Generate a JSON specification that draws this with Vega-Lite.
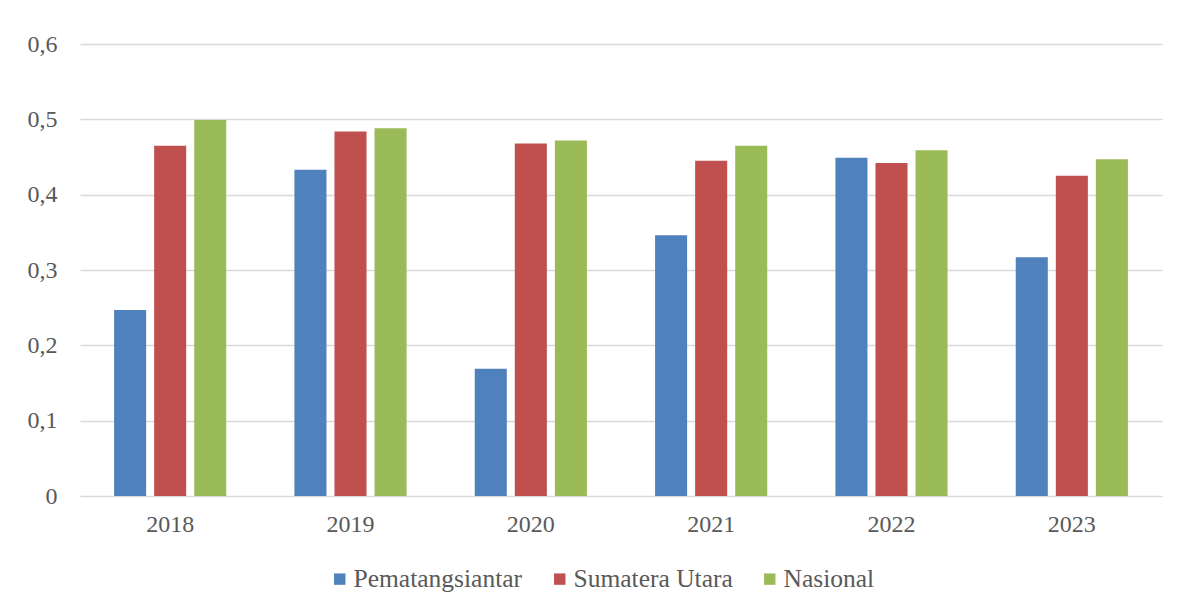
{
  "$schema": "https://vega.github.io/schema/vega-lite/v6.json",
  "width": 1082,
  "height": 452,
  "autosize": {"type": "none"},
  "padding": {"left": 80, "top": 44, "right": 23, "bottom": 111},
  "background": "white",
  "data": {
    "values": [
      {"year": "2018", "series": "Pematangsiantar", "value": 0.247},
      {"year": "2018", "series": "Sumatera Utara", "value": 0.465},
      {"year": "2018", "series": "Nasional", "value": 0.499},
      {"year": "2019", "series": "Pematangsiantar", "value": 0.433},
      {"year": "2019", "series": "Sumatera Utara", "value": 0.484},
      {"year": "2019", "series": "Nasional", "value": 0.488},
      {"year": "2020", "series": "Pematangsiantar", "value": 0.169},
      {"year": "2020", "series": "Sumatera Utara", "value": 0.468},
      {"year": "2020", "series": "Nasional", "value": 0.472},
      {"year": "2021", "series": "Pematangsiantar", "value": 0.346},
      {"year": "2021", "series": "Sumatera Utara", "value": 0.445},
      {"year": "2021", "series": "Nasional", "value": 0.465},
      {"year": "2022", "series": "Pematangsiantar", "value": 0.449},
      {"year": "2022", "series": "Sumatera Utara", "value": 0.442},
      {"year": "2022", "series": "Nasional", "value": 0.459},
      {"year": "2023", "series": "Pematangsiantar", "value": 0.317},
      {"year": "2023", "series": "Sumatera Utara", "value": 0.425},
      {"year": "2023", "series": "Nasional", "value": 0.447}
    ]
  },
  "mark": {"type": "bar"},
  "encoding": {
    "x": {
      "field": "year", "type": "nominal", "title": null,
      "scale": {"paddingInner": 0.378, "paddingOuter": 0.189},
      "axis": {"labelAngle": 0, "domain": false, "ticks": false, "labelPadding": 16, "labelFontSize": 24, "labelFont": "Liberation Serif", "labelColor": "#595959"}
    },
    "xOffset": {
      "field": "series", "type": "nominal",
      "sort": ["Pematangsiantar", "Sumatera Utara", "Nasional"],
      "scale": {"paddingInner": 0.2, "paddingOuter": 0}
    },
    "y": {
      "field": "value", "type": "quantitative", "title": null,
      "scale": {"domain": [0, 0.6], "nice": false},
      "axis": {
        "values": [0, 0.1, 0.2, 0.3, 0.4, 0.5, 0.6],
        "labelExpr": "datum.value == 0 ? '0' : replace(format(datum.value, '.1f'), '.', ',')",
        "domain": false, "ticks": false, "labelPadding": 23,
        "labelFontSize": 24, "labelFont": "Liberation Serif", "labelColor": "#595959",
        "gridColor": "#d9d9d9", "gridWidth": 1.5
      }
    },
    "color": {
      "field": "series", "type": "nominal",
      "sort": ["Pematangsiantar", "Sumatera Utara", "Nasional"],
      "scale": {"domain": ["Pematangsiantar", "Sumatera Utara", "Nasional"], "range": ["#4F81BD", "#C0504D", "#9BBB59"]},
      "legend": {
        "title": null, "orient": "none", "direction": "horizontal",
        "legendX": 247, "legendY": 522,
        "symbolType": "square", "symbolSize": 130, "symbolStrokeWidth": 0,
        "labelFont": "Liberation Serif", "labelFontSize": 25.5, "labelColor": "#595959",
        "labelLimit": 0, "labelOffset": 1, "columnPadding": 24
      }
    }
  },
  "config": {"view": {"stroke": null}}
}
